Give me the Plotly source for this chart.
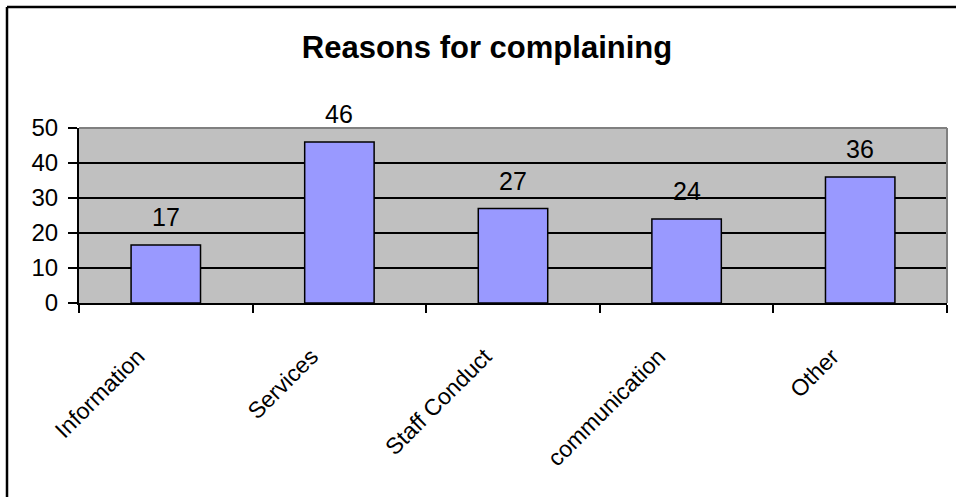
import plotly.graph_objects as go

categories = ["Information", "Services", "Staff Conduct", "communication", "Other"]
values = [16.6, 46, 27, 24, 36]
y_ticks = [0, 10, 20, 30, 40, 50]
title_text = "Reasons for complaining"

FONT = "Arial, Liberation Sans, sans-serif"

W, H = 956, 497
L, R, T, B = 79, 9, 128, 194
pw, ph = W - L - R, H - T - B

def px_x(px):
    return (px - L) / pw

def px_y(py):
    return (H - B - py) / ph

fig = go.Figure()
fig.add_trace(go.Bar(
    x=categories, y=values, width=0.4,
    marker=dict(color="#9999FF", line=dict(color="black", width=1.5)),
    hoverinfo="skip",
))

for c, v in zip(categories, values):
    fig.add_annotation(x=c, y=v, text=f"{v:.0f}", showarrow=False,
                       yanchor="bottom", yshift=12,
                       font=dict(family=FONT, size=25, color="black"))

fig.update_layout(
    width=W, height=H,
    margin=dict(l=L, r=R, t=T, b=B, pad=0),
    paper_bgcolor="white", plot_bgcolor="#C0C0C0",
    showlegend=False,
    bargap=0.6,
    title=dict(text=f"<b>{title_text}</b>", x=487 / W, xanchor="center",
               y=1 - 47 / H, yanchor="middle", xref="container", yref="container",
               font=dict(family=FONT, size=31, color="black")),
    font=dict(family=FONT, size=22, color="black"),
)

fig.update_yaxes(range=[0, 50], tickvals=y_ticks, ticks="outside", ticklen=9,
                 tickwidth=1.5, tickcolor="black", showline=True, linecolor="black",
                 linewidth=2, showgrid=True, gridcolor="black", gridwidth=1.5,
                 zeroline=False, tickfont=dict(family=FONT, size=24, color="black"),
                 ticklabelstandoff=5, fixedrange=True)
fig.update_xaxes(type="category", tickson="boundaries", ticks="outside", ticklen=8,
                 tickwidth=1.5, tickcolor="black", showline=True, linecolor="black",
                 linewidth=2, showgrid=False, tickangle=-45,
                 ticklabelstandoff=29, ticklabelshift=-28,
                 tickfont=dict(family=FONT, size=23, color="black"),
                 fixedrange=True)

# gray top and right plot border
fig.add_shape(type="line", xref="paper", yref="paper", x0=0, x1=1, y0=1, y1=1,
              line=dict(color="#808080", width=2), layer="above")
fig.add_shape(type="line", xref="paper", yref="paper", x0=1, x1=1, y0=0, y1=1,
              line=dict(color="#808080", width=2), layer="above")
# outer chart border (left and top edges visible)
bx, by = px_x(7), px_y(7)
fig.add_shape(type="line", xref="paper", yref="paper", x0=bx, x1=bx, y0=px_y(520), y1=by,
              line=dict(color="black", width=2.5), layer="above")
fig.add_shape(type="line", xref="paper", yref="paper", x0=bx, x1=px_x(980), y0=by, y1=by,
              line=dict(color="black", width=2.5), layer="above")

fig.write_html("out.html")
